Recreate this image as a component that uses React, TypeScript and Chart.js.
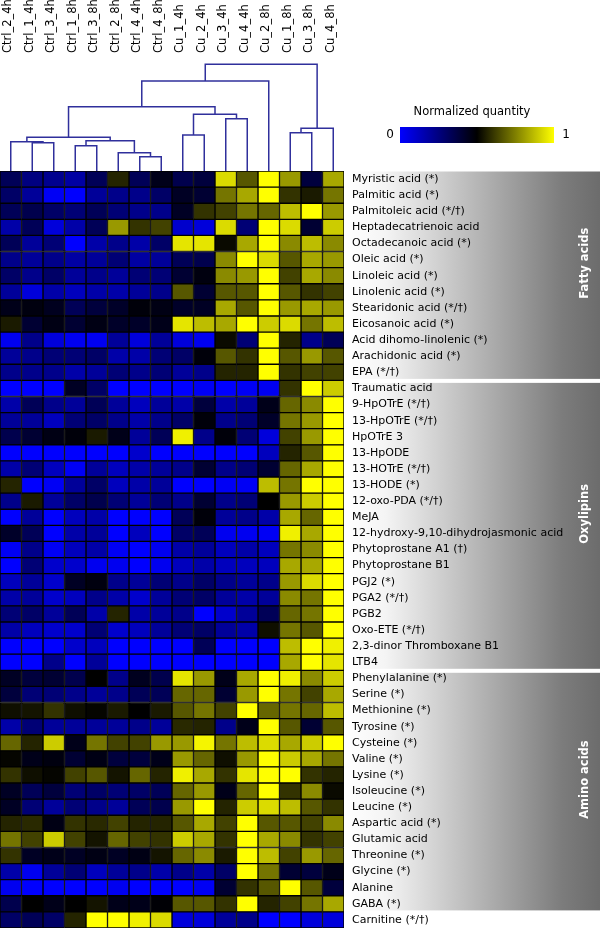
import React, { useEffect, useRef } from 'react';
import { Chart, registerables } from 'chart.js';

Chart.register(...registerables);

const FONT = "'DejaVu Sans', Verdana, sans-serif";

const samples = [
  'Ctrl_2_4h', 'Ctrl_1_4h', 'Ctrl_3_4h', 'Ctrl_1_8h', 'Ctrl_3_8h', 'Ctrl_2_8h', 'Ctrl_4_4h', 'Ctrl_4_8h',
  'Cu_1_4h', 'Cu_2_4h', 'Cu_3_4h', 'Cu_4_4h', 'Cu_2_8h', 'Cu_1_8h', 'Cu_3_8h', 'Cu_4_8h',
];

const fattyAcids = [
  'Myristic acid (*)', 'Palmitic acid (*)', 'Palmitoleic acid (*/†)', 'Heptadecatrienoic acid',
  'Octadecanoic acid (*)', 'Oleic acid (*)', 'Linoleic acid (*)', 'Linolenic acid (*)',
  'Stearidonic acid (*/†)', 'Eicosanoic acid (*)', 'Acid dihomo-linolenic (*)', 'Arachidonic acid (*)', 'EPA (*/†)',
];
const oxylipins = [
  'Traumatic acid', '9-HpOTrE (*/†)', '13-HpOTrE (*/†)', 'HpOTrE 3', '13-HpODE', '13-HOTrE (*/†)',
  '13-HODE (*)', '12-oxo-PDA (*/†)', 'MeJA', '12-hydroxy-9,10-dihydrojasmonic acid', 'Phytoprostane A1 (†)',
  'Phytoprostane B1', 'PGJ2 (*)', 'PGA2 (*/†)', 'PGB2', 'Oxo-ETE (*/†)', '2,3-dinor Thromboxane B1', 'LTB4',
];
const aminoAcids = [
  'Phenylalanine (*)', 'Serine (*)', 'Methionine (*)', 'Tyrosine (*)', 'Cysteine (*)', 'Valine (*)',
  'Lysine (*)', 'Isoleucine (*)', 'Leucine (*)', 'Aspartic acid (*)', 'Glutamic acid', 'Threonine (*)',
  'Glycine (*)', 'Alanine', 'GABA (*)', 'Carnitine (*/†)',
];

// normalized quantity (0 = blue, 0.5 = black, 1 = yellow)
const fattyAcidValues = [
  [0.33, 0.25, 0.22, 0.18, 0.33, 0.57, 0.33, 0.45, 0.35, 0.38, 0.93, 0.67, 1.0, 0.8, 0.38, 0.83],
  [0.3, 0.2, 0.02, 0.0, 0.2, 0.23, 0.23, 0.3, 0.43, 0.4, 0.73, 0.83, 1.0, 0.6, 0.55, 0.73],
  [0.33, 0.35, 0.3, 0.27, 0.33, 0.27, 0.23, 0.23, 0.43, 0.6, 0.63, 0.73, 0.7, 0.87, 1.0, 0.8],
  [0.17, 0.33, 0.07, 0.17, 0.33, 0.8, 0.6, 0.63, 0.1, 0.07, 0.93, 0.27, 1.0, 0.93, 0.4, 0.9],
  [0.33, 0.2, 0.27, 0.0, 0.17, 0.23, 0.17, 0.3, 0.95, 0.95, 0.52, 0.83, 1.0, 0.77, 0.87, 0.77],
  [0.23, 0.2, 0.23, 0.18, 0.2, 0.27, 0.18, 0.2, 0.33, 0.35, 0.77, 1.0, 0.93, 0.67, 0.83, 0.8],
  [0.3, 0.23, 0.3, 0.2, 0.23, 0.2, 0.27, 0.27, 0.4, 0.47, 0.77, 0.8, 1.0, 0.63, 0.83, 0.77],
  [0.2, 0.07, 0.17, 0.13, 0.17, 0.17, 0.2, 0.23, 0.67, 0.4, 0.67, 0.67, 1.0, 0.67, 0.6, 0.63],
  [0.45, 0.47, 0.44, 0.33, 0.38, 0.42, 0.48, 0.46, 0.42, 0.43, 0.83, 0.67, 1.0, 0.8, 0.83, 0.8],
  [0.55, 0.4, 0.46, 0.4, 0.46, 0.42, 0.42, 0.45, 0.95, 0.87, 0.83, 1.0, 0.9, 0.93, 0.73, 0.87],
  [0.03, 0.23, 0.07, 0.03, 0.03, 0.2, 0.07, 0.2, 0.07, 0.03, 0.52, 0.27, 1.0, 0.57, 0.23, 0.33],
  [0.2, 0.23, 0.27, 0.27, 0.3, 0.17, 0.17, 0.27, 0.3, 0.48, 0.67, 0.6, 1.0, 0.67, 0.8, 0.67],
  [0.23, 0.23, 0.23, 0.17, 0.2, 0.27, 0.23, 0.27, 0.2, 0.23, 0.57, 0.57, 1.0, 0.6, 0.63, 0.63],
];
const oxylipinValues = [
  [0.0, 0.0, 0.0, 0.43, 0.3, 0.0, 0.0, 0.0, 0.0, 0.02, 0.0, 0.02, 0.03, 0.6, 1.0, 0.9],
  [0.17, 0.33, 0.23, 0.2, 0.33, 0.2, 0.13, 0.2, 0.17, 0.38, 0.17, 0.2, 0.45, 0.7, 0.77, 1.0],
  [0.2, 0.2, 0.13, 0.27, 0.3, 0.23, 0.17, 0.23, 0.3, 0.48, 0.23, 0.27, 0.42, 0.73, 0.8, 1.0],
  [0.35, 0.4, 0.46, 0.48, 0.55, 0.45, 0.2, 0.33, 0.97, 0.23, 0.48, 0.27, 0.07, 0.63, 0.8, 1.0],
  [0.0, 0.0, 0.0, 0.0, 0.0, 0.0, 0.1, 0.0, 0.0, 0.0, 0.0, 0.0, 0.13, 0.57, 0.67, 1.0],
  [0.17, 0.27, 0.13, 0.02, 0.2, 0.13, 0.17, 0.2, 0.23, 0.4, 0.23, 0.27, 0.4, 0.7, 0.83, 1.0],
  [0.57, 0.0, 0.02, 0.2, 0.3, 0.13, 0.17, 0.2, 0.0, 0.0, 0.02, 0.02, 0.87, 0.73, 1.0, 1.0],
  [0.23, 0.55, 0.2, 0.3, 0.35, 0.27, 0.2, 0.27, 0.23, 0.4, 0.23, 0.27, 0.5, 0.8, 0.9, 1.0],
  [0.0, 0.2, 0.0, 0.13, 0.17, 0.0, 0.0, 0.0, 0.33, 0.48, 0.2, 0.23, 0.17, 0.83, 0.7, 1.0],
  [0.42, 0.33, 0.0, 0.17, 0.2, 0.0, 0.13, 0.0, 0.3, 0.33, 0.03, 0.03, 0.02, 0.97, 0.83, 1.0],
  [0.02, 0.23, 0.02, 0.13, 0.17, 0.02, 0.0, 0.03, 0.17, 0.2, 0.13, 0.17, 0.13, 0.73, 0.77, 1.0],
  [0.0, 0.27, 0.1, 0.1, 0.03, 0.03, 0.0, 0.03, 0.13, 0.17, 0.13, 0.13, 0.13, 0.83, 0.83, 1.0],
  [0.13, 0.2, 0.1, 0.43, 0.47, 0.23, 0.2, 0.27, 0.23, 0.3, 0.23, 0.2, 0.23, 0.8, 0.93, 1.0],
  [0.17, 0.2, 0.1, 0.13, 0.23, 0.17, 0.1, 0.2, 0.27, 0.3, 0.2, 0.17, 0.2, 0.77, 0.73, 1.0],
  [0.27, 0.3, 0.2, 0.33, 0.17, 0.57, 0.17, 0.2, 0.23, 0.0, 0.1, 0.2, 0.33, 0.7, 0.73, 1.0],
  [0.17, 0.13, 0.1, 0.1, 0.27, 0.1, 0.13, 0.2, 0.27, 0.3, 0.2, 0.17, 0.53, 0.73, 0.67, 1.0],
  [0.0, 0.0, 0.0, 0.1, 0.13, 0.0, 0.0, 0.0, 0.0, 0.33, 0.0, 0.0, 0.0, 0.87, 1.0, 0.97],
  [0.0, 0.0, 0.23, 0.0, 0.2, 0.0, 0.0, 0.0, 0.0, 0.0, 0.0, 0.0, 0.0, 0.83, 1.0, 0.95],
];
const aminoAcidValues = [
  [0.43, 0.38, 0.4, 0.35, 0.5, 0.23, 0.44, 0.35, 0.95, 0.8, 0.45, 0.83, 1.0, 0.97, 0.77, 0.9],
  [0.38, 0.27, 0.27, 0.23, 0.2, 0.23, 0.33, 0.33, 0.7, 0.7, 0.4, 0.8, 1.0, 0.73, 0.63, 0.83],
  [0.53, 0.54, 0.6, 0.53, 0.51, 0.55, 0.5, 0.55, 0.67, 0.73, 0.63, 1.0, 0.7, 0.73, 0.7, 0.87],
  [0.17, 0.27, 0.2, 0.2, 0.2, 0.2, 0.23, 0.2, 0.58, 0.57, 0.23, 0.45, 1.0, 0.67, 0.4, 0.67],
  [0.7, 0.57, 0.9, 0.45, 0.73, 0.63, 0.63, 0.8, 0.8, 0.98, 0.73, 0.87, 0.93, 0.83, 0.9, 1.0],
  [0.51, 0.45, 0.47, 0.4, 0.46, 0.38, 0.38, 0.45, 0.8, 0.7, 0.53, 0.8, 1.0, 0.9, 0.83, 0.73],
  [0.6, 0.53, 0.51, 0.63, 0.67, 0.54, 0.7, 0.57, 0.97, 0.83, 0.6, 0.95, 1.0, 1.0, 0.6, 0.57],
  [0.43, 0.33, 0.38, 0.27, 0.3, 0.27, 0.3, 0.33, 0.7, 0.8, 0.45, 0.7, 1.0, 0.6, 0.77, 0.52],
  [0.43, 0.27, 0.2, 0.27, 0.23, 0.2, 0.33, 0.35, 0.8, 1.0, 0.57, 0.9, 0.93, 0.87, 0.67, 0.6],
  [0.57, 0.58, 0.46, 0.6, 0.58, 0.63, 0.57, 0.57, 0.67, 0.83, 0.63, 1.0, 0.67, 0.67, 0.63, 0.77],
  [0.73, 0.63, 0.9, 0.63, 0.54, 0.7, 0.63, 0.6, 0.9, 0.83, 0.6, 1.0, 0.83, 0.77, 0.6, 0.63],
  [0.6, 0.43, 0.45, 0.43, 0.46, 0.43, 0.46, 0.54, 0.7, 0.77, 0.55, 1.0, 0.87, 0.63, 0.8, 0.7],
  [0.17, 0.03, 0.2, 0.27, 0.13, 0.2, 0.23, 0.17, 0.23, 0.17, 0.3, 1.0, 0.73, 0.4, 0.38, 0.45],
  [0.03, 0.0, 0.0, 0.0, 0.0, 0.03, 0.0, 0.0, 0.0, 0.02, 0.4, 0.6, 0.67, 1.0, 0.67, 0.38],
  [0.35, 0.5, 0.45, 0.5, 0.54, 0.45, 0.45, 0.49, 0.67, 0.67, 0.6, 1.0, 0.57, 0.63, 0.73, 0.83],
  [0.3, 0.33, 0.3, 0.57, 1.0, 1.0, 0.97, 0.93, 0.07, 0.07, 0.2, 0.23, 0.0, 0.0, 0.07, 0.07],
];

// group boxes: [name, first row, last row]
const groupNames = ['Fatty acids', 'Oxylipins', 'Amino acids'];
const groupFirstRow = [0, 13, 31];
const groupLastRow = [12, 30, 45];

// dendrogram merges: [child A, child B, height]; leaves 0..15, new nodes 16..
const merges: [number, number, number][] = [
  [1, 2, 28.3], [0, 16, 29.3], [3, 4, 25.3], [6, 7, 14.3], [5, 19, 18.3], [18, 20, 30.3],
  [17, 21, 33.7], [8, 9, 36], [10, 11, 52.3], [23, 24, 56.7], [22, 25, 64.3], [26, 12, 90],
  [13, 14, 38.3], [28, 15, 42.7], [27, 29, 106.7],
];

const metabolites = [...fattyAcids, ...oxylipins, ...aminoAcids];
const allValues = [...fattyAcidValues, ...oxylipinValues, ...aminoAcidValues];

function colorFor(v: number): string {
  if (v < 0.5) {
    const b = Math.round(255 * (0.5 - v) / 0.5);
    return `rgb(0,0,${b})`;
  }
  const y = Math.round(255 * (v - 0.5) / 0.5);
  return `rgb(${y},${y},0)`;
}

const LINE = '#30309c';

const colorbarPlugin = {
  id: 'colorbar',
  afterDraw(chart: any) {
    const ctx = chart.ctx;
    const x0 = 400, x1 = 554, y0 = 127, h = 16;
    ctx.save();
    const g = ctx.createLinearGradient(x0, 0, x1, 0);
    for (let i = 0; i <= 10; i++) g.addColorStop(i / 10, colorFor(i / 10));
    ctx.fillStyle = g;
    ctx.fillRect(x0, y0, x1 - x0, h);
    ctx.fillStyle = '#000';
    ctx.font = `11.5px ${FONT}`;
    ctx.textBaseline = 'middle';
    ctx.textAlign = 'center';
    ctx.fillText('Normalized quantity', 472, 112);
    ctx.font = `12px ${FONT}`;
    ctx.fillText('0', 390, 135);
    ctx.fillText('1', 566, 135);
    ctx.restore();
  },
};

const groupPlugin = {
  id: 'groups',
  beforeDraw(chart: any) {
    const ctx = chart.ctx;
    const ys = chart.scales.y;
    const rowH = (ys.bottom - ys.top) / metabolites.length;
    const left = ys.left + 4;
    const right = chart.width;
    ctx.save();
    groupNames.forEach((name, gi) => {
      const top = ys.getPixelForTick(groupFirstRow[gi]) - rowH / 2 + (gi === 0 ? 0.5 : 2.5);
      const bottom = ys.getPixelForTick(groupLastRow[gi]) + rowH / 2 - 1.5;
      const grad = ctx.createLinearGradient(left, 0, right, 0);
      grad.addColorStop(0, '#ffffff');
      grad.addColorStop(0.15, '#f4f4f4');
      grad.addColorStop(0.85, '#7c7c7c');
      grad.addColorStop(1, '#6c6c6c');
      ctx.fillStyle = grad;
      ctx.fillRect(left, top, right - left, bottom - top);
      ctx.save();
      ctx.translate(right - 12, (top + bottom) / 2 - 12);
      ctx.rotate(-Math.PI / 2);
      ctx.textAlign = 'center';
      ctx.textBaseline = 'alphabetic';
      ctx.fillStyle = '#ffffff';
      ctx.font = `bold 11.5px ${FONT}`;
      ctx.fillText(name, 0, 0);
      ctx.restore();
    });
    ctx.restore();
  },
};

export default function App() {
  const dendroRef = useRef<HTMLCanvasElement>(null);
  const heatRef = useRef<HTMLCanvasElement>(null);

  useEffect(() => {
    // dendrogram
    const nodeX: number[] = samples.map((_, i) => i + 0.5);
    const nodeH: number[] = samples.map(() => 0);
    const dendroSets = merges.map(([a, b, h]) => {
      nodeX.push((nodeX[a] + nodeX[b]) / 2);
      nodeH.push(h);
      return {
        data: [
          { x: nodeX[a], y: nodeH[a] },
          { x: nodeX[a], y: h },
          { x: nodeX[b], y: h },
          { x: nodeX[b], y: nodeH[b] },
        ],
        showLine: true,
        borderColor: LINE,
        borderWidth: 1.5,
        pointRadius: 0,
        fill: false,
        clip: false as any,
        tension: 0,
      };
    });

    const dendro = new Chart(dendroRef.current!, {
      type: 'scatter',
      data: { datasets: dendroSets as any },
      options: {
        animation: false,
        responsive: false,
        events: [],
        layout: { padding: { left: 0, right: 256, top: 0, bottom: 0 } },
        plugins: { legend: { display: false }, tooltip: { enabled: false } },
        scales: {
          x: {
            type: 'linear',
            position: 'top',
            min: 0,
            max: 16,
            afterBuildTicks: (s: any) => {
              s.ticks = samples.map((_, i) => ({ value: i + 0.5 }));
            },
            afterFit: (s: any) => {
              s.height = 58;
              s.paddingLeft = 0;
              s.paddingRight = 0;
            },
            ticks: {
              autoSkip: false,
              minRotation: 90,
              maxRotation: 90,
              padding: 5,
              labelOffset: 11.5,
              color: '#000',
              font: { family: FONT, size: 11.5 },
              callback: (v: any) => samples[Math.floor(Number(v))],
            },
            grid: { display: false, drawTicks: false },
            border: { display: false },
          },
          y: { type: 'linear', min: 0, max: 113, display: false },
        },
      },
      plugins: [colorbarPlugin],
    });

    const heat = new Chart(heatRef.current!, {
      type: 'bar',
      data: {
        labels: metabolites,
        datasets: samples.map((s, j) => ({
          label: s,
          data: metabolites.map(() => [j, j + 1]),
          backgroundColor: allValues.map((row) => colorFor(row[j])),
          borderColor: '#000',
          borderWidth: 1,
          borderSkipped: false,
          grouped: false,
          barPercentage: 1,
          categoryPercentage: 1,
        })) as any,
      },
      options: {
        indexAxis: 'y',
        animation: false,
        responsive: false,
        events: [],
        layout: { padding: 0 },
        plugins: { legend: { display: false }, tooltip: { enabled: false } },
        scales: {
          x: { type: 'linear', min: 0, max: 16, display: false },
          y: {
            type: 'category',
            position: 'right',
            afterFit: (s: any) => {
              s.width = 256;
              s.paddingTop = 0;
              s.paddingBottom = 0;
            },
            grid: { display: false, drawTicks: false },
            border: { display: false },
            ticks: {
              autoSkip: false,
              padding: 8,
              color: '#000',
              font: { family: FONT, size: 11 },
            },
          },
        },
      },
      plugins: [groupPlugin],
    });

    return () => {
      dendro.destroy();
      heat.destroy();
    };
  }, []);

  return (
    <div style={{ position: 'absolute', left: 0, top: 0, width: 600, height: 928, background: '#fff' }}>
      <canvas ref={dendroRef} width={600} height={171} style={{ position: 'absolute', left: 0, top: 0, width: 600, height: 171 }} />
      <canvas ref={heatRef} width={600} height={757} style={{ position: 'absolute', left: 0, top: 171, width: 600, height: 757 }} />
    </div>
  );
}
